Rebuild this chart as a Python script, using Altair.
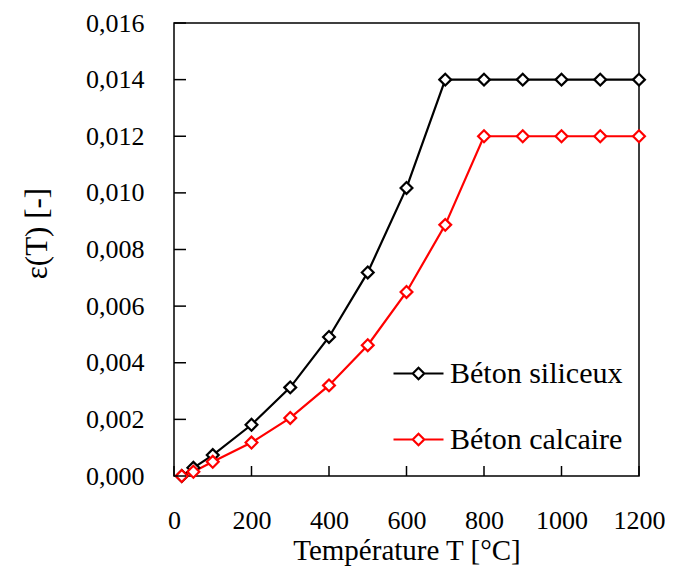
import altair as alt
import pandas as pd

temps = [20, 50, 100, 200, 300, 400, 500, 600, 700, 800, 900, 1000, 1100, 1200]
siliceux = [0.0, 0.00029, 0.00074, 0.00181, 0.00313, 0.00491, 0.00719, 0.010175, 0.014, 0.014, 0.014, 0.014, 0.014, 0.014]
calcaire = [0.0, 0.00015, 0.0005, 0.00118, 0.00205, 0.0032, 0.00462, 0.0065, 0.00887, 0.012, 0.012, 0.012, 0.012, 0.012]
series = ["Béton siliceux", "Béton calcaire"]
colors = ["#000000", "#ff0000"]
x_ticks = [0, 200, 400, 600, 800, 1000, 1200]
y_ticks = [0.0, 0.002, 0.004, 0.006, 0.008, 0.010, 0.012, 0.014, 0.016]

rows = []
for i, t in enumerate(temps):
    rows.append({"T": t, "eps": siliceux[i], "serie": series[0], "order": 0})
for i, t in enumerate(temps):
    rows.append({"T": t, "eps": calcaire[i], "serie": series[1], "order": 1})
df = pd.DataFrame(rows)

FONT = "Liberation Serif"
W, H = 465, 453

xscale = alt.Scale(domain=[0, 1200], nice=False, zero=False)
yscale = alt.Scale(domain=[0, 0.016], nice=False)
cscale = alt.Scale(domain=series, range=colors)

legend_path = "M-1,0L-0.23,0M0.23,0L1,0M-0.23,0L0,-0.23L0.23,0L0,0.23Z"

x_axis = alt.Axis(values=x_ticks, tickSize=0, labelPadding=31, domain=False, grid=False,
                  labelOverlap=False, labelFlush=False, format="d",
                  title="Température T [°C]", titlePadding=3, titleFontSize=29)
y_axis = alt.Axis(values=y_ticks, tickSize=0, labelPadding=30, domain=False, grid=False,
                  labelOverlap=False, labelFlush=False,
                  labelExpr="replace(format(datum.value, '.3f'), '.', ',')",
                  title="ε(T) [-]", titlePadding=32, titleY=210)

lines = alt.Chart(df).mark_line(strokeWidth=2.2).encode(
    x=alt.X("T:Q", scale=xscale, axis=x_axis),
    y=alt.Y("eps:Q", scale=yscale, axis=y_axis),
    color=alt.Color("serie:N", scale=cscale, sort=series,
                    legend=alt.Legend(title=None, orient="none", legendX=218, legendY=324,
                                      symbolType=legend_path, symbolSize=2500, symbolStrokeWidth=2.2,
                                      symbolFillColor="white", labelFont=FONT, labelFontSize=30,
                                      labelLimit=400,
                                      labelColor="black", labelOffset=5, rowPadding=24, padding=0)),
    detail="serie:N",
    order="order:Q",
)

points = alt.Chart(df).mark_point(shape="diamond", size=140, strokeWidth=2.2, fill="white",
                                  fillOpacity=1, opacity=1).encode(
    x=alt.X("T:Q", scale=xscale, axis=x_axis),
    y=alt.Y("eps:Q", scale=yscale, axis=y_axis),
    stroke=alt.Stroke("serie:N", scale=cscale, legend=None),
    order="order:Q",
)

xt = alt.Chart(pd.DataFrame({"T": x_ticks})).mark_rule(color="black", strokeWidth=1.5).encode(
    x=alt.X("T:Q", scale=xscale, axis=x_axis), y=alt.value(H), y2=alt.value(H - 10))
yt = alt.Chart(pd.DataFrame({"eps": y_ticks})).mark_rule(color="black", strokeWidth=1.5).encode(
    y=alt.Y("eps:Q", scale=yscale, axis=y_axis), x=alt.value(0), x2=alt.value(12))

chart = alt.layer(lines, points, xt, yt).properties(
    width=W, height=H,
    autosize=alt.AutoSizeParams(type="none"),
    padding={"left": 166, "top": 15, "right": 26, "bottom": 90},
    background="white",
).configure_view(
    stroke="black", strokeWidth=1.5
).configure_axis(
    labelFont=FONT, labelFontSize=26, labelColor="black",
    titleFont=FONT, titleFontSize=31, titleColor="black", titleFontWeight="normal",
)

chart.save("out.html", embed_options={"renderer": "svg", "actions": False})
